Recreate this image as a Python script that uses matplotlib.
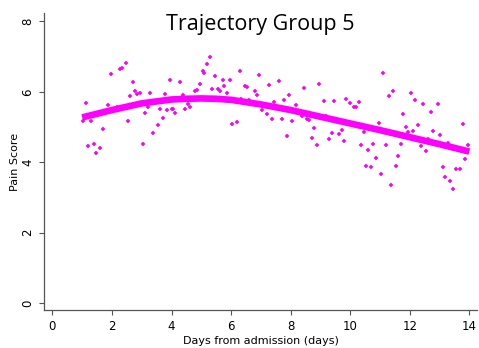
import matplotlib
matplotlib.use("Agg")
import matplotlib.pyplot as plt

# scatter of individual pain scores (day, score)
days = [2.46, 2.33, 2.28, 1.96, 2.71, 3.96, 2.78, 2.85, 2.94, 2.62, 3.29, 3.78,
        1.13, 1.87, 2.16, 2.22, 3.20, 3.62, 3.86, 4.03, 3.12, 1.04, 1.28, 3.71,
        2.54, 3.54, 1.71, 3.37, 1.21, 1.38, 1.61, 1.47, 3.04,
        5.28, 5.20, 5.05, 5.10, 6.29, 6.95, 5.46, 5.72, 5.96, 4.29, 4.96, 5.77,
        6.46, 6.54, 7.26, 5.37, 5.55, 5.62, 4.78, 4.86, 5.87, 6.79, 6.87, 4.38,
        6.34, 6.61, 4.55, 4.62, 4.46, 4.04, 4.12, 7.04, 7.22, 6.03, 6.21,
        7.62, 8.45, 8.95, 7.95, 7.79, 9.12, 9.46, 9.86, 9.99, 10.14, 10.18, 10.30,
        7.45, 8.17, 7.36, 7.70, 8.04, 8.37, 8.56, 8.63, 9.18, 8.78, 9.71, 9.38,
        9.62, 7.88, 8.71, 9.29, 9.78, 8.88, 10.37, 10.53,
        11.11, 11.45, 11.29, 12.04, 12.19, 12.45, 12.70, 12.95, 11.78, 10.96,
        11.86, 11.95, 12.12, 12.29, 12.78, 13.02, 13.79, 10.45, 10.78, 11.20,
        11.70, 10.61, 12.37, 12.54, 12.62, 13.27, 13.94, 10.87, 11.61, 13.86,
        10.70, 11.53, 13.12, 11.03, 13.55, 13.70, 13.19, 13.35, 11.37, 13.44]
scores = [6.83, 6.67, 6.64, 6.50, 6.28, 6.34, 6.01, 5.94, 5.96, 5.88, 5.97, 5.93,
          5.67, 5.63, 5.58, 5.52, 5.56, 5.50, 5.48, 5.50, 5.41, 5.18, 5.18, 5.26,
          5.17, 5.05, 4.94, 4.82, 4.47, 4.52, 4.40, 4.27, 4.51,
          6.98, 6.78, 6.59, 6.54, 6.58, 6.48, 6.44, 6.34, 6.33, 6.27, 6.23, 6.16,
          6.16, 6.13, 6.20, 6.09, 6.08, 6.01, 6.02, 6.04, 5.96, 6.01, 5.90, 5.92,
          5.78, 5.76, 5.64, 5.56, 5.52, 5.52, 5.39, 5.47, 5.36, 5.09, 5.14,
          6.30, 6.12, 6.22, 5.90, 5.76, 5.74, 5.74, 5.80, 5.67, 5.56, 5.58, 5.70,
          5.70, 5.61, 5.23, 5.23, 5.17, 5.32, 5.23, 5.19, 5.31, 4.97, 4.91, 4.84,
          4.80, 4.75, 4.70, 4.65, 4.60, 4.49, 4.48, 3.89,
          6.53, 6.01, 5.87, 5.96, 5.77, 5.65, 5.43, 5.65, 5.38, 5.11,
          5.01, 4.87, 4.89, 5.06, 4.89, 4.77, 5.08, 4.86, 4.52, 4.50,
          4.51, 4.35, 4.45, 4.32, 4.65, 4.54, 4.48, 4.13, 4.18, 4.09,
          3.86, 3.90, 3.86, 3.66, 3.80, 3.81, 3.57, 3.47, 3.35, 3.25]

# smoothed trajectory
fit_days = [1, 2, 3, 4, 4.5, 5, 5.5, 6, 7, 8, 9, 10, 11, 12, 13, 14]
fit_scores = [5.27, 5.48, 5.67, 5.78, 5.80, 5.81, 5.80, 5.77, 5.64, 5.48,
              5.29, 5.10, 4.91, 4.71, 4.51, 4.30]

magenta = '#ff00ff'
grey = '#555555'

fig = plt.figure(figsize=(4.79, 3.48), dpi=100)
ax = fig.add_axes([0.092, 0.109, 0.904, 0.854])

ax.plot(days, scores, linestyle='none', marker='+', color=magenta,
        markersize=3.5, markeredgewidth=1.2)
ax.plot(fit_days, fit_scores, color=magenta, linewidth=4.8,
        solid_capstyle='butt', solid_joinstyle='round')

ax.set_xlim(-0.28, 14.26)
ax.set_ylim(-0.2, 8.24)
ax.set_xticks(range(0, 15, 2))
ax.set_yticks(range(0, 9, 2))

for side in ['top', 'right']:
    ax.spines[side].set_visible(False)
for side in ['left', 'bottom']:
    ax.spines[side].set_color(grey)
    ax.spines[side].set_linewidth(0.9)

ax.tick_params(colors=grey, labelcolor='black', labelsize=8.5, length=3.5,
               width=0.8)
for lab in ax.get_yticklabels():
    lab.set_rotation(90)
    lab.set_va('center')

ax.set_xlabel('Days from admission (days)', fontsize=8, labelpad=2)
ax.set_ylabel('Pain Score', fontsize=8, labelpad=1)

fig.text(0.543, 0.931, 'Trajectory Group 5', ha='center', va='center',
         fontsize=15.5, family='Open Sans')

fig.savefig('out.png', dpi=100)
